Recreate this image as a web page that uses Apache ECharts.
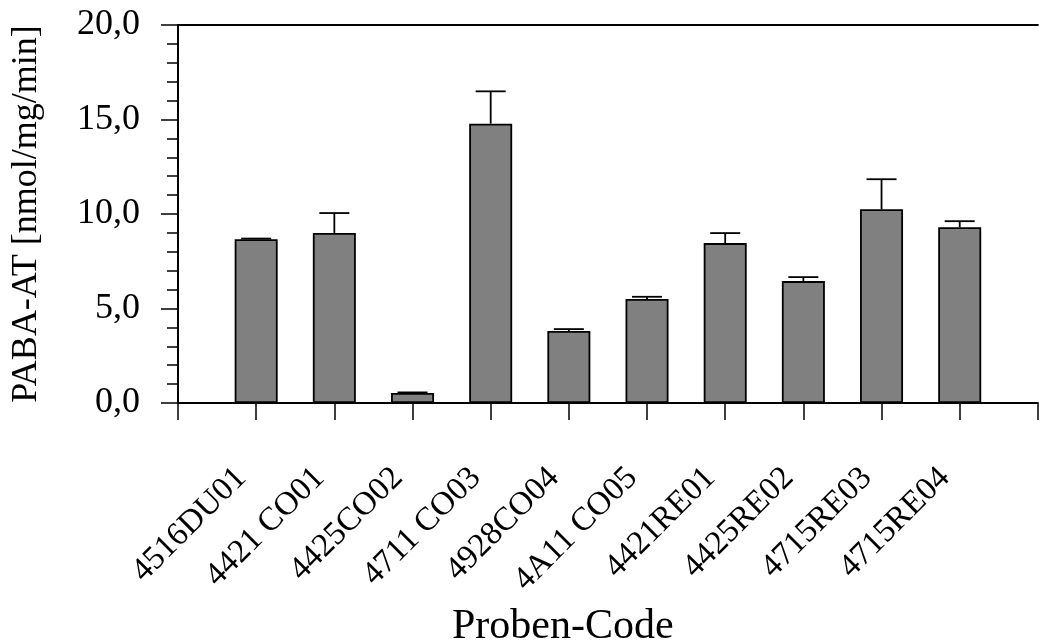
<!DOCTYPE html>
<html>
<head>
<meta charset="utf-8">
<script src="https://cdn.jsdelivr.net/npm/echarts@6/dist/echarts.min.js"></script>
<style>
  html, body { margin: 0; padding: 0; background: #fff; }
  #chart { width: 1040px; height: 642px; }
</style>
</head>
<body>
<div id="chart"></div>
<script>
// Probenbezeichnungen (Positionen 1..10 auf der x-Achse)
const categories = ['4516DU01', '4421 CO01', '4425CO02', '4711 CO03', '4928CO04',
  '4A11 CO05', '4421RE01', '4425RE02', '4715RE03', '4715RE04'];
// Mittelwerte PABA-AT [nmol/mg/min]
const values = [8.67, 9.0, 0.53, 14.78, 3.81, 5.50, 8.46, 6.45, 10.25, 9.30];
// Standardabweichung (nur nach oben gezeichnet)
const errors = [0.03, 1.05, 0.03, 1.71, 0.10, 0.12, 0.53, 0.21, 1.59, 0.32];
const yTicks = [0, 5, 10, 15, 20];

const font = 'Liberation Serif, Times New Roman, serif';

const barData = values.map((v, i) => [i + 1, v]);
const errData = values.map((v, i) => [i + 1, v, v + errors[i]]);

const chart = echarts.init(document.getElementById('chart'));

chart.setOption({
  backgroundColor: '#fff',
  animation: false,
  title: {
    text: 'Proben-Code',
    left: 452,
    top: 606,
    padding: 0,
    textStyle: {fontFamily: font, fontSize: 42, fontWeight: 'normal', color: '#000'}
  },
  grid: {left: 178, top: 25, width: 869, height: 378, containLabel: false},
  xAxis: [
    {
      type: 'value',
      min: 0,
      max: 11,
      interval: 1,
      axisLine: {show: true, lineStyle: {color: '#000', width: 2}},
      axisTick: {show: true, inside: false, length: 17, lineStyle: {color: '#000', width: 1.5}},
      splitLine: {show: false},
      axisLabel: {
        show: true,
        rotate: 45,
        margin: 55,
        padding: [0, 21, 0, 0],
        fontFamily: font,
        fontSize: 33,
        color: '#000',
        formatter: (v) => categories[v - 1] || ''
      }
    },
    // obere Rahmenlinie
    {
      type: 'value',
      position: 'top',
      min: 0,
      max: 11,
      axisLine: {show: true, onZero: false, lineStyle: {color: '#000', width: 2}},
      axisTick: {show: false},
      axisLabel: {show: false},
      splitLine: {show: false}
    }
  ],
  yAxis: {
    type: 'value',
    min: yTicks[0],
    max: yTicks[yTicks.length - 1],
    interval: 5,
    name: 'PABA-AT [nmol/mg/min]',
    nameLocation: 'middle',
    nameGap: 133,
    nameRotate: 90,
    nameTextStyle: {fontFamily: font, fontSize: 36, color: '#000'},
    axisLine: {show: true, lineStyle: {color: '#000', width: 2}},
    axisTick: {show: true, length: 17, lineStyle: {color: '#000', width: 1.5}},
    minorTick: {show: true, splitNumber: 5, length: 11, lineStyle: {color: '#000', width: 1.5}},
    splitLine: {show: false},
    axisLabel: {
      margin: 38,
      fontFamily: font,
      fontSize: 36,
      color: '#000',
      formatter: (v) => v.toFixed(1).replace('.', ',')
    }
  },
  series: [
    {
      type: 'bar',
      xAxisIndex: 0,
      data: barData,
      barWidth: 43,
      itemStyle: {color: '#808080', borderColor: '#000', borderWidth: 1.8}
    },
    {
      type: 'custom',
      xAxisIndex: 0,
      data: errData,
      z: 3,
      renderItem: (params, api) => {
        const base = api.coord([api.value(0), api.value(1)]);
        const top = api.coord([api.value(0), api.value(2)]);
        const half = 15;
        const style = {stroke: '#000', lineWidth: 1.8};
        return {
          type: 'group',
          children: [
            {type: 'line', shape: {x1: base[0], y1: base[1], x2: top[0], y2: top[1]}, style},
            {type: 'line', shape: {x1: top[0] - half, y1: top[1], x2: top[0] + half, y2: top[1]}, style}
          ]
        };
      }
    }
  ]
});
</script>
</body>
</html>
